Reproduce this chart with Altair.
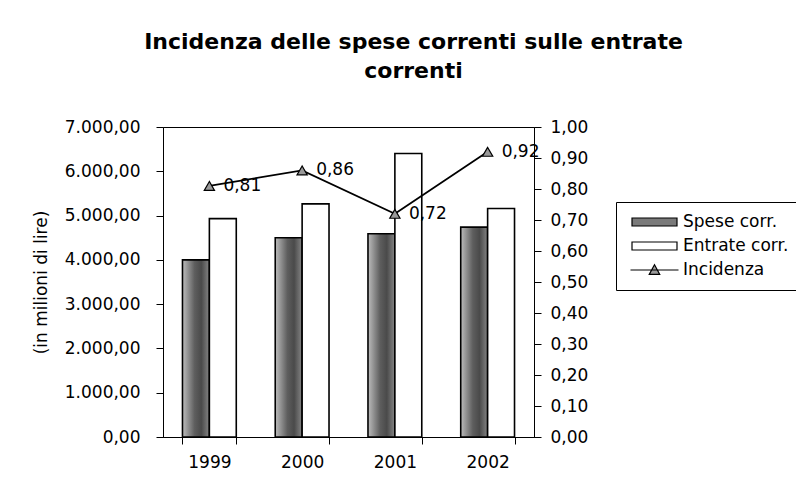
import altair as alt
import pandas as pd

# ---- data ----
anni = ["1999", "2000", "2001", "2002"]
spese_corr = [4000, 4500, 4590, 4740]
entrate_corr = [4930, 5265, 6400, 5160]
incidenza = [0.81, 0.86, 0.72, 0.92]
serie = ["Spese corr.", "Entrate corr.", "Incidenza"]
left_ticks = [0, 1000, 2000, 3000, 4000, 5000, 6000, 7000]
right_ticks = [0, 0.1, 0.2, 0.3, 0.4, 0.5, 0.6, 0.7, 0.8, 0.9, 1.0]

spese_df = pd.DataFrame({"Anno": anni, "Serie": serie[0], "Valore": spese_corr})
entrate_df = pd.DataFrame({"Anno": anni, "Serie": serie[1], "Valore": entrate_corr})
inc_df = pd.DataFrame({"Anno": anni, "Incidenza": incidenza})
legend_df = pd.DataFrame({"Serie": serie})

FONT = "DejaVu Sans"

x_enc = alt.X(
    "Anno:N",
    scale=alt.Scale(paddingInner=0.42, paddingOuter=0.21),
    axis=alt.Axis(title=None, labelAngle=0, tickBand="extent", tickSize=7,
                  labelPadding=10, labelFontSize=17, labelFont=FONT,
                  labelColor="black", domainColor="black", tickColor="black"),
)
xoff = alt.XOffset("Serie:N", scale=alt.Scale(domain=serie[:2], paddingInner=0, paddingOuter=0))

y_left = alt.Y(
    "Valore:Q",
    scale=alt.Scale(domain=[0, 7000], nice=False),
    axis=alt.Axis(values=left_ticks, format=",.2f", title="(in milioni di lire)",
                  orient="left", grid=False, tickSize=7, labelPadding=16,
                  labelFontSize=17, labelFont=FONT, labelColor="black",
                  titleFontSize=17, titleFont=FONT, titleFontWeight="normal",
                  titleColor="black", titlePadding=14,
                  domainColor="black", tickColor="black"),
)

spese_grad = alt.Gradient(
    gradient="linear",
    x1=0, x2=1, y1=0, y2=0,
    stops=[
        alt.GradientStop(color="#bdbdbd", offset=0),
        alt.GradientStop(color="#5e5e5e", offset=0.45),
        alt.GradientStop(color="#4a4a4a", offset=0.7),
        alt.GradientStop(color="#858585", offset=1),
    ],
)

bars_spese = alt.Chart(spese_df).mark_bar(
    fill=spese_grad, stroke="black", strokeWidth=1.6
).encode(x=x_enc, xOffset=xoff, y=y_left)

bars_entrate = alt.Chart(entrate_df).mark_bar(
    fill="white", stroke="black", strokeWidth=1.6
).encode(x=x_enc, xOffset=xoff, y=y_left)

rect_path = "M-0.818,-0.145H0.818V0.145H-0.818Z"
line_path = "M-0.873,0H0.873M-0.19,0.16L0,-0.19L0.19,0.16Z"

leg = alt.Legend(
    title=None, orient="none", legendX=453, legendY=75,
    symbolSize=3025, clipHeight=20, labelOffset=0,
    labelFontSize=17, labelFont=FONT, labelColor="black",
    strokeColor="black", fillColor="white", padding=10, rowPadding=4,
    symbolStrokeWidth=1.2, symbolOpacity=1,
)

legend_layer = alt.Chart(legend_df).mark_point(
    filled=True, opacity=0, strokeWidth=1.2
).encode(
    fill=alt.Fill("Serie:N", scale=alt.Scale(domain=serie, range=["#7a7a7a", "white", "#9a9a9a"]), legend=leg),
    shape=alt.Shape("Serie:N", scale=alt.Scale(domain=serie, range=[rect_path, rect_path, line_path]), legend=leg),
    stroke=alt.Stroke("Serie:N", scale=alt.Scale(domain=serie, range=["black", "black", "black"]), legend=leg),
)

y_right = alt.Y(
    "Incidenza:Q",
    scale=alt.Scale(domain=[0, 1], nice=False),
    axis=alt.Axis(values=right_ticks, format=".2f", title=None, orient="right",
                  grid=False, tickSize=7, labelPadding=9, labelFontSize=17,
                  labelFont=FONT, labelColor="black",
                  domainColor="black", tickColor="black"),
)

line = alt.Chart(inc_df).mark_line(color="black", strokeWidth=1.8).encode(x=x_enc, y=y_right)
points = alt.Chart(inc_df).mark_point(
    shape="triangle-up", filled=True, fill="#9a9a9a", stroke="black",
    strokeWidth=1.2, size=105, opacity=1
).encode(x=x_enc, y=y_right)
labels = alt.Chart(inc_df).mark_text(
    align="left", baseline="middle", dx=14, fontSize=17, font=FONT, color="black"
).encode(x=x_enc, y=y_right, text=alt.Text("Incidenza:Q", format=".2f"))

left = alt.layer(bars_spese, bars_entrate, legend_layer)
right = alt.layer(line, points, labels)

chart = alt.layer(left, right).resolve_scale(y="independent").properties(
    width=371,
    height=310,
    autosize=alt.AutoSizeParams(type="none"),
    padding={"left": 155, "top": 119, "right": 262, "bottom": 36},
    title=alt.TitleParams(
        ["Incidenza delle spese correnti sulle entrate", "correnti"],
        font=FONT, fontSize=22, fontWeight="bold", color="black",
        anchor="middle", frame="group", dx=65, lineHeight=29, offset=35,
    ),
).configure(
    background="white",
    locale={"number": {"decimal": ",", "thousands": ".", "grouping": [3], "currency": ["€", ""]}},
).configure_view(stroke="black", strokeWidth=1)

chart.save("out.html", embed_options={"renderer": "svg", "actions": False})
